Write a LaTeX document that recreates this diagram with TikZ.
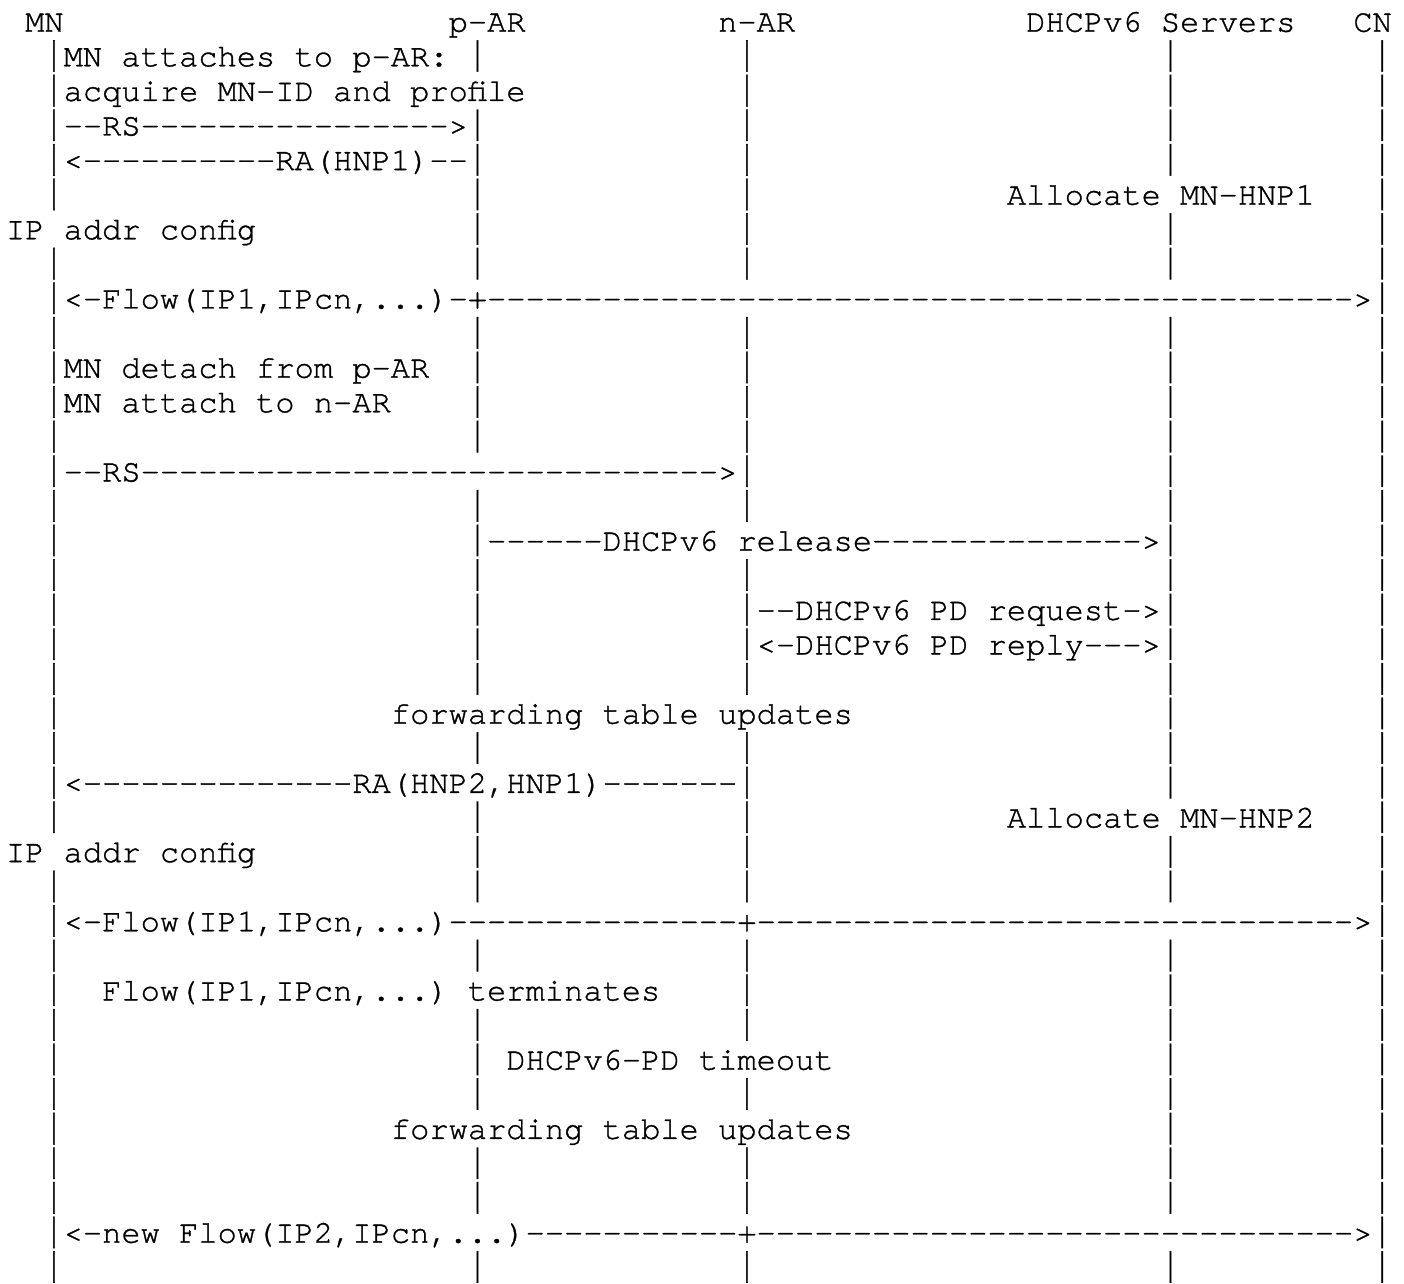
\documentclass[tikz,border=0pt]{standalone}
\usepackage{fontspec}
\setmonofont{TeX Gyre Cursor}[FakeBold=1.0]
\usepackage{tikz}
\newcommand{\asciifont}{\ttfamily\fontsize{16.04pt}{17.3pt}\selectfont}
\newcommand{\msgdash}[1]{\foreach \k in {1,...,#1}{-}}
\newcommand{\lifebar}{\raisebox{-0.17em}{\resizebox*{0.6em}{0.98em}{\raisebox{\depth}{|}}}}
\tikzstyle{ascii} = [anchor=base west, inner sep=0pt, outer sep=0pt, font=\asciifont]
\tikzstyle{bar} = [ascii]

\begin{document}
\frenchspacing
\begin{tikzpicture}[x=9.625pt, y=-17.3pt]
			\useasboundingbox (-2.95pt,-1.45pt) rectangle (699.05pt,-643.45pt);
			% header
			\node [ascii] (mn) at (1,1) {MN};
			\node [ascii] (par) at (23,1) {p-AR};
			\node [ascii] (nar) at (37,1) {n-AR};
			\node [ascii] (dhcp) at (53,1) {DHCPv6 Servers};
			\node [ascii] (cn) at (70,1) {CN};
			% lifelines
			\foreach \c/\rows in {
				2/{2,3,4,5,6,8,9,10,11,12,13,14,15,16,17,18,19,20,21,22,23,24,26,27,28,29,30,31,32,33,34,35,36,37},
				24/{2,4,5,6,7,8,10,11,12,13,15,16,17,18,19,20,22,24,25,26,28,30,31,32,34,35,37},
				38/{2,3,4,5,6,7,8,10,11,12,13,14,15,17,18,19,20,22,23,24,25,26,28,29,30,32,34,35,37},
				60/{2,3,4,5,7,8,10,11,12,13,14,15,16,17,18,19,20,21,22,23,25,26,28,29,30,31,32,33,34,35,37},
				71/{2,3,4,5,6,7,8,9,10,11,12,13,14,15,16,17,18,19,20,21,22,23,24,25,26,27,28,29,30,31,32,33,34,35,36,37}}
				\foreach \r in \rows
					\node [bar] (bar-\c-\r) at (\c,\r) {\lifebar};
			% messages
			\node [ascii] (attach) at (3,2) {MN attaches to p-AR:};
			\node [ascii] (profile) at (3,3) {acquire MN-ID and profile};
			\node [ascii] (rs1) at (3,4) {--RS\msgdash{16}>};
			\node [ascii] (ra1) at (3,5) {<\msgdash{10}RA(HNP1)--};
			\node [ascii] (alloc1) at (52,6) {Allocate MN-HNP1};
			\node [ascii] (cfg1) at (0,7) {IP addr config};
			\node [ascii] (flow1) at (3,9) {<-Flow(IP1,IPcn,...)-+\msgdash{45}>};
			\node [ascii] (detach) at (3,11) {MN detach from p-AR};
			\node [ascii] (attach2) at (3,12) {MN attach to n-AR};
			\node [ascii] (rs2) at (3,14) {--RS\msgdash{30}>};
			\node [ascii] (release) at (25,16) {------DHCPv6 release\msgdash{14}>};
			\node [ascii] (pdreq) at (39,18) {--DHCPv6 PD request->};
			\node [ascii] (pdrep) at (39,19) {<-DHCPv6 PD reply--->};
			\node [ascii] (fwd1) at (20,21) {forwarding table updates};
			\node [ascii] (ra2) at (3,23) {<\msgdash{14}RA(HNP2,HNP1)\msgdash{7}};
			\node [ascii] (alloc2) at (52,24) {Allocate MN-HNP2};
			\node [ascii] (cfg2) at (0,25) {IP addr config};
			\node [ascii] (flow2) at (3,27) {<-Flow(IP1,IPcn,...)\msgdash{15}+\msgdash{31}>};
			\node [ascii] (term) at (5,29) {Flow(IP1,IPcn,...) terminates};
			\node [ascii] (timeout) at (26,31) {DHCPv6-PD timeout};
			\node [ascii] (fwd2) at (20,33) {forwarding table updates};
			\node [ascii] (flow3) at (3,36) {<-new Flow(IP2,IPcn,...)\msgdash{11}+\msgdash{31}>};
\end{tikzpicture}
\end{document}
